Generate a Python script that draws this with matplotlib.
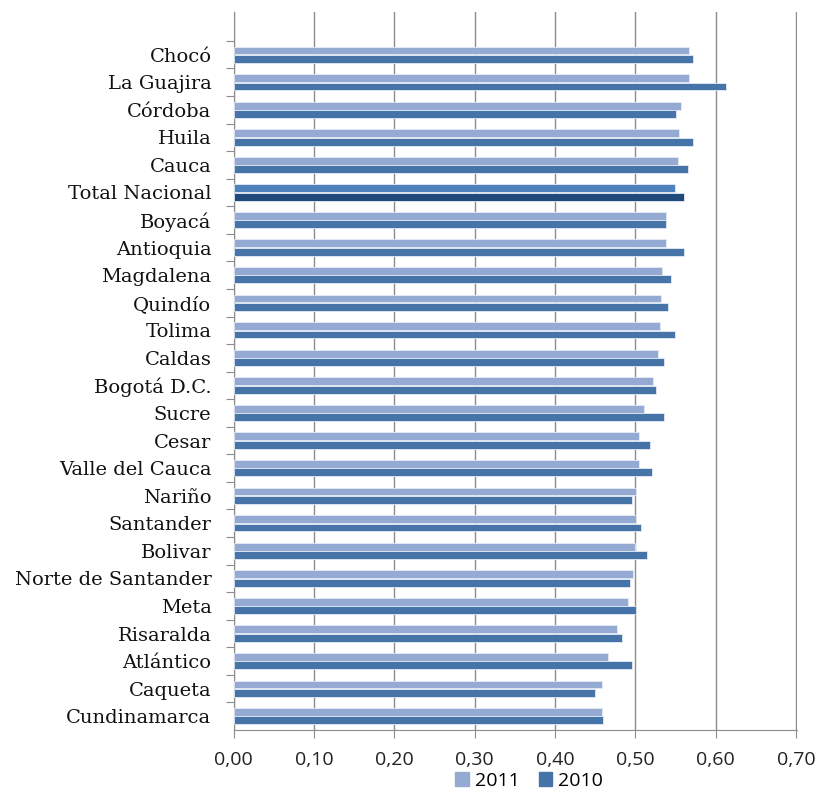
# Indice por departamento, 2011 vs 2010 - barras horizontales
import numpy as np
import matplotlib.pyplot as plt
from matplotlib.patches import Patch

# ------------------------------------------
# DATOS
# ------------------------------------------

departamentos = ["Chocó", "La Guajira", "Córdoba", "Huila", "Cauca",
                 "Total Nacional", "Boyacá", "Antioquia", "Magdalena",
                 "Quindío", "Tolima", "Caldas", "Bogotá D.C.", "Sucre",
                 "Cesar", "Valle del Cauca", "Nariño", "Santander",
                 "Bolivar", "Norte de Santander", "Meta", "Risaralda",
                 "Atlántico", "Caqueta", "Cundinamarca"]

v2011 = [0.567, 0.567, 0.557, 0.554, 0.553, 0.549, 0.538, 0.538, 0.533,
         0.532, 0.531, 0.528, 0.522, 0.510, 0.505, 0.504, 0.501, 0.501,
         0.500, 0.497, 0.491, 0.477, 0.466, 0.458, 0.458]

v2010 = [0.571, 0.613, 0.550, 0.571, 0.565, 0.560, 0.538, 0.561, 0.544,
         0.540, 0.549, 0.535, 0.526, 0.536, 0.518, 0.520, 0.496, 0.507,
         0.514, 0.493, 0.501, 0.483, 0.496, 0.450, 0.459]

xticks = [0.0, 0.1, 0.2, 0.3, 0.4, 0.5, 0.6, 0.7]

# ------------------------------------------
# COLORES
# ------------------------------------------

c2011 = "#95aad2"
c2010 = "#4674a9"
c2011_total = "#4f81bd"
c2010_total = "#214a7c"

col11 = [c2011_total if d == "Total Nacional" else c2011 for d in departamentos]
col10 = [c2010_total if d == "Total Nacional" else c2010 for d in departamentos]

# ------------------------------------------
# GRAFICO
# ------------------------------------------

fig = plt.figure(figsize=(8.4, 7.92), dpi=100)
ax = fig.add_axes([0.2782, 0.0783, 0.6704, 0.9066])

y = np.arange(len(departamentos))
h = 0.285

ax.barh(y - h / 2 - 0.01, v2011, height=h, color=col11,
        edgecolor="#e4ebf5", linewidth=0.6, zorder=3)
ax.barh(y + h / 2 + 0.01, v2010, height=h, color=col10,
        edgecolor="#e4ebf5", linewidth=0.6, zorder=3)

ax.set_xlim(0, 0.7008)
ax.set_ylim(len(departamentos) - 0.5, -1.55)

ax.set_xticks(xticks)
ax.set_xticklabels([f"{t:.2f}".replace(".", ",") for t in xticks],
                   fontsize=14, family="Open Sans", color="#222222")
ax.tick_params(axis="x", length=6, color="#8c8c8c", pad=9)

# etiquetas en el centro, marcas en los limites
ax.set_yticks(np.arange(len(departamentos)) - 0.5)
ax.set_yticklabels([])
ax.tick_params(axis="y", which="major", length=6, color="#8c8c8c")
ax.set_yticks(y, minor=True)
ax.set_yticklabels(departamentos, minor=True, fontsize=14,
                   family="DejaVu Serif", color="#111111")
ax.tick_params(axis="y", which="minor", length=0, pad=16)

ax.grid(axis="x", color="#8c8c8c", linewidth=1.0, zorder=0)
ax.set_axisbelow(True)

for s in ["top", "right"]:
    ax.spines[s].set_visible(False)
ax.spines["left"].set_color("#8c8c8c")
ax.spines["bottom"].set_color("#8c8c8c")

handles = [Patch(color=c2011, label="2011"), Patch(color=c2010, label="2010")]
fig.legend(handles=handles, loc="center", bbox_to_anchor=(0.63, 0.014),
           ncol=2, frameon=False, handlelength=0.7, handleheight=0.7,
           handletextpad=0.3, columnspacing=1.0, borderpad=0.1,
           prop={"family": "Open Sans", "size": 14})

plt.savefig("out.png", dpi=100)
